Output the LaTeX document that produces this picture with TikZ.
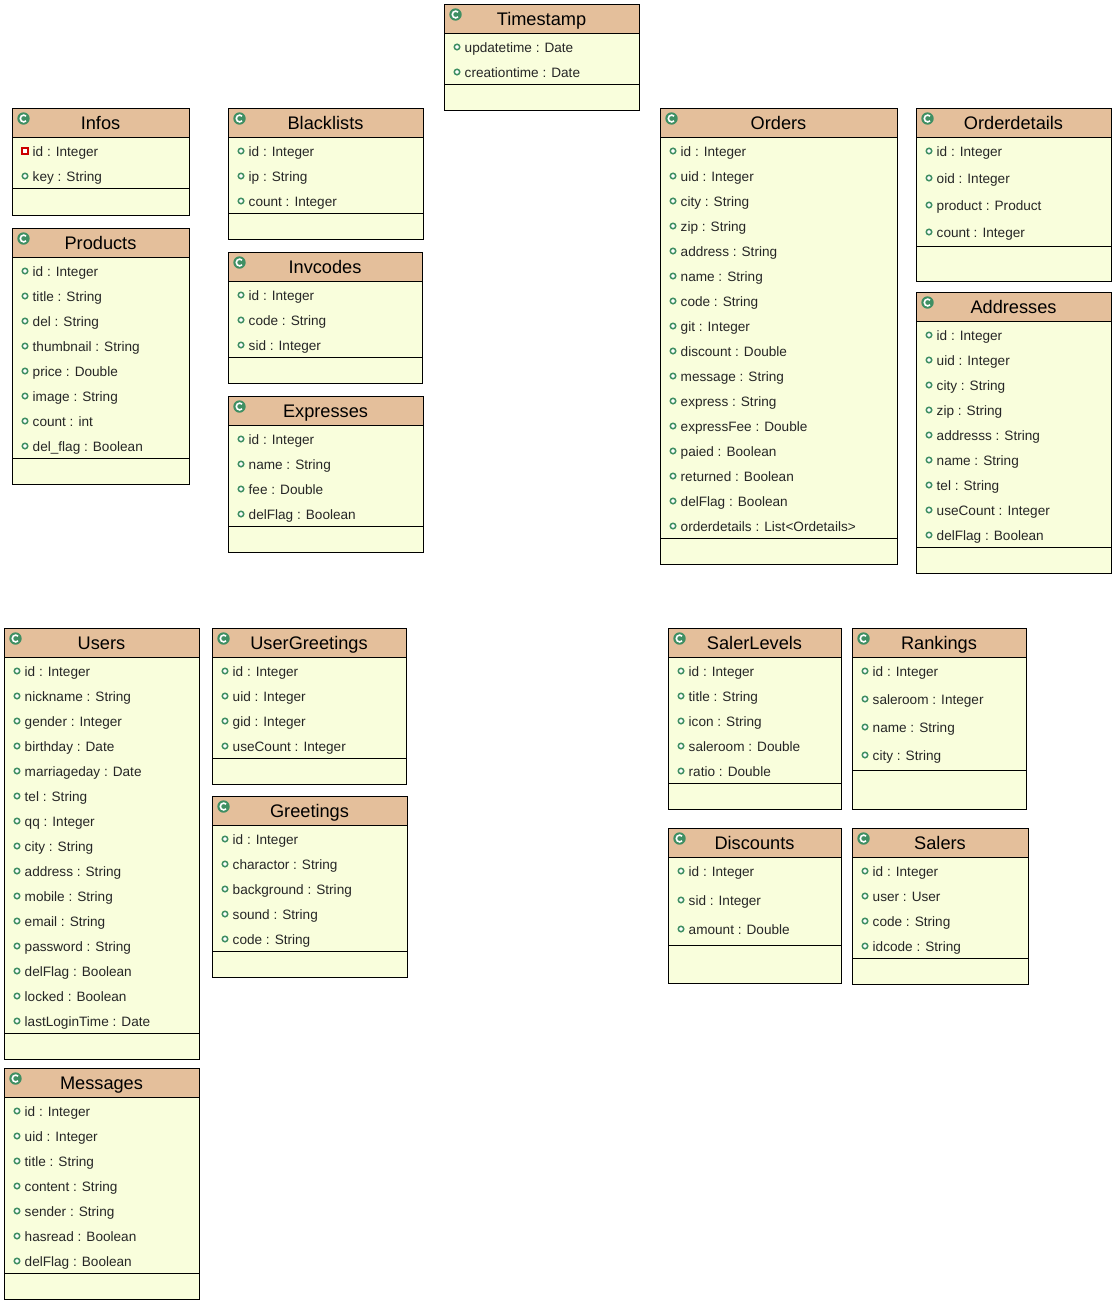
\documentclass[tikz,border=0pt]{standalone}
\usepackage{fontspec}
\setmainfont{Liberation Sans}
\definecolor{headfill}{HTML}{E4BF9B}
\definecolor{bodyfill}{HTML}{F9FEDC}
\definecolor{iconfill}{HTML}{3F8F63}
\tikzset{
  boxline/.style={draw=black,line width=0.85pt},
  titletext/.style={font=\fontsize{18.2}{20}\selectfont,text=black,anchor=base,inner sep=0pt},
  attrtext/.style={font=\fontsize{13.6}{16}\selectfont,text=black!85,anchor=base west,inner sep=0pt},
  pubmark/.style={circle,draw=iconfill,fill=white,line width=1.5pt,minimum size=5.5pt,inner sep=0pt},
  privmark/.style={rectangle,draw=red!80!black,fill=white,line width=1.6pt,minimum size=5.5pt,inner sep=0pt},
}
% #1 first marker, #2 name, #3 left, #4 top, #5 right, #6 bottom, #7 separator, #8 row step, #9 attributes
\newcommand{\umlbox}[9][pubmark]{
  \fill[bodyfill] (#3,#4) rectangle (#5-0.7,#6);
  \fill[headfill] (#3,#4) rectangle (#5-0.7,#4+29);
  \draw[boxline] (#3,#4) rectangle (#5-0.7,#6);
  \draw[boxline] (#3,#4+29) -- (#5-0.7,#4+29);
  \draw[boxline] (#3,#7) -- (#5-0.7,#7);
  \node[titletext] (#2) at ({(#3+#5)/2-1},#4+20.5) {#2};
  % class icon
  \fill[iconfill] (#3+11,#4+10) circle (6.2);
  \draw[white,line width=1.6pt] (#3+13.6,#4+7.6) arc (-45:-315:3.4);
  \foreach \attr [count=\n] in {#9}{
    \pgfmathsetmacro{\rowy}{#4+43+(\n-1)*#8}
    \ifnum\n=1
      \node[#1] (#2-m\n) at (#3+12.5,\rowy-0.5) {};
    \else
      \node[pubmark] (#2-m\n) at (#3+12.5,\rowy-0.5) {};
    \fi
    \node[attrtext] (#2-a\n) at (#3+20,\rowy+4.5) {\attr};
  }
}
\begin{document}
\begin{tikzpicture}[x=1pt,y=-1pt]
\useasboundingbox (-0.5,-0.5) rectangle (1115.5,1303.5);

\umlbox{Timestamp}{444}{4}{640}{110}{84}{25}{updatetime : Date,creationtime : Date}

\umlbox[privmark]{Infos}{12}{108}{190}{215}{188}{25}{id : Integer,key : String}
\umlbox{Products}{12}{228}{190}{484}{458}{25}{id : Integer,title : String,del : String,thumbnail : String,price : Double,image : String,count : int,del\_flag : Boolean}

\umlbox{Blacklists}{228}{108}{424}{239}{213}{25}{id : Integer,ip : String,count : Integer}
\umlbox{Invcodes}{228}{252}{423}{383}{357}{25}{id : Integer,code : String,sid : Integer}
\umlbox{Expresses}{228}{396}{424}{552}{526}{25}{id : Integer,name : String,fee : Double,delFlag : Boolean}

\umlbox{Orders}{660}{108}{898}{564}{538}{25}{id : Integer,uid : Integer,city : String,zip : String,address : String,name : String,code : String,git : Integer,discount : Double,message : String,express : String,expressFee : Double,paied : Boolean,returned : Boolean,delFlag : Boolean,orderdetails : List<Ordetails>}
\umlbox{Orderdetails}{916}{108}{1112}{281}{246}{27}{id : Integer,oid : Integer,product : Product,count : Integer}
\umlbox{Addresses}{916}{292}{1112}{573}{547}{25}{id : Integer,uid : Integer,city : String,zip : String,addresss : String,name : String,tel : String,useCount : Integer,delFlag : Boolean}

\umlbox{Users}{4}{628}{200}{1059}{1033}{25}{id : Integer,nickname : String,gender : Integer,birthday : Date,marriageday : Date,tel : String,qq : Integer,city : String,address : String,mobile : String,email : String,password : String,delFlag : Boolean,locked : Boolean,lastLoginTime : Date}
\umlbox{Messages}{4}{1068}{200}{1299}{1273}{25}{id : Integer,uid : Integer,title : String,content : String,sender : String,hasread : Boolean,delFlag : Boolean}
\umlbox{UserGreetings}{212}{628}{407}{784}{758}{25}{id : Integer,uid : Integer,gid : Integer,useCount : Integer}
\umlbox{Greetings}{212}{796}{408}{977}{951}{25}{id : Integer,charactor : String,background : String,sound : String,code : String}

\umlbox{SalerLevels}{668}{628}{842}{809}{783}{25}{id : Integer,title : String,icon : String,saleroom : Double,ratio : Double}
\umlbox{Rankings}{852}{628}{1027}{809}{770}{28}{id : Integer,saleroom : Integer,name : String,city : String}
\umlbox{Discounts}{668}{828}{842}{983}{945}{29}{id : Integer,sid : Integer,amount : Double}
\umlbox{Salers}{852}{828}{1029}{984}{958}{25}{id : Integer,user : User,code : String,idcode : String}
\end{tikzpicture}
\end{document}
